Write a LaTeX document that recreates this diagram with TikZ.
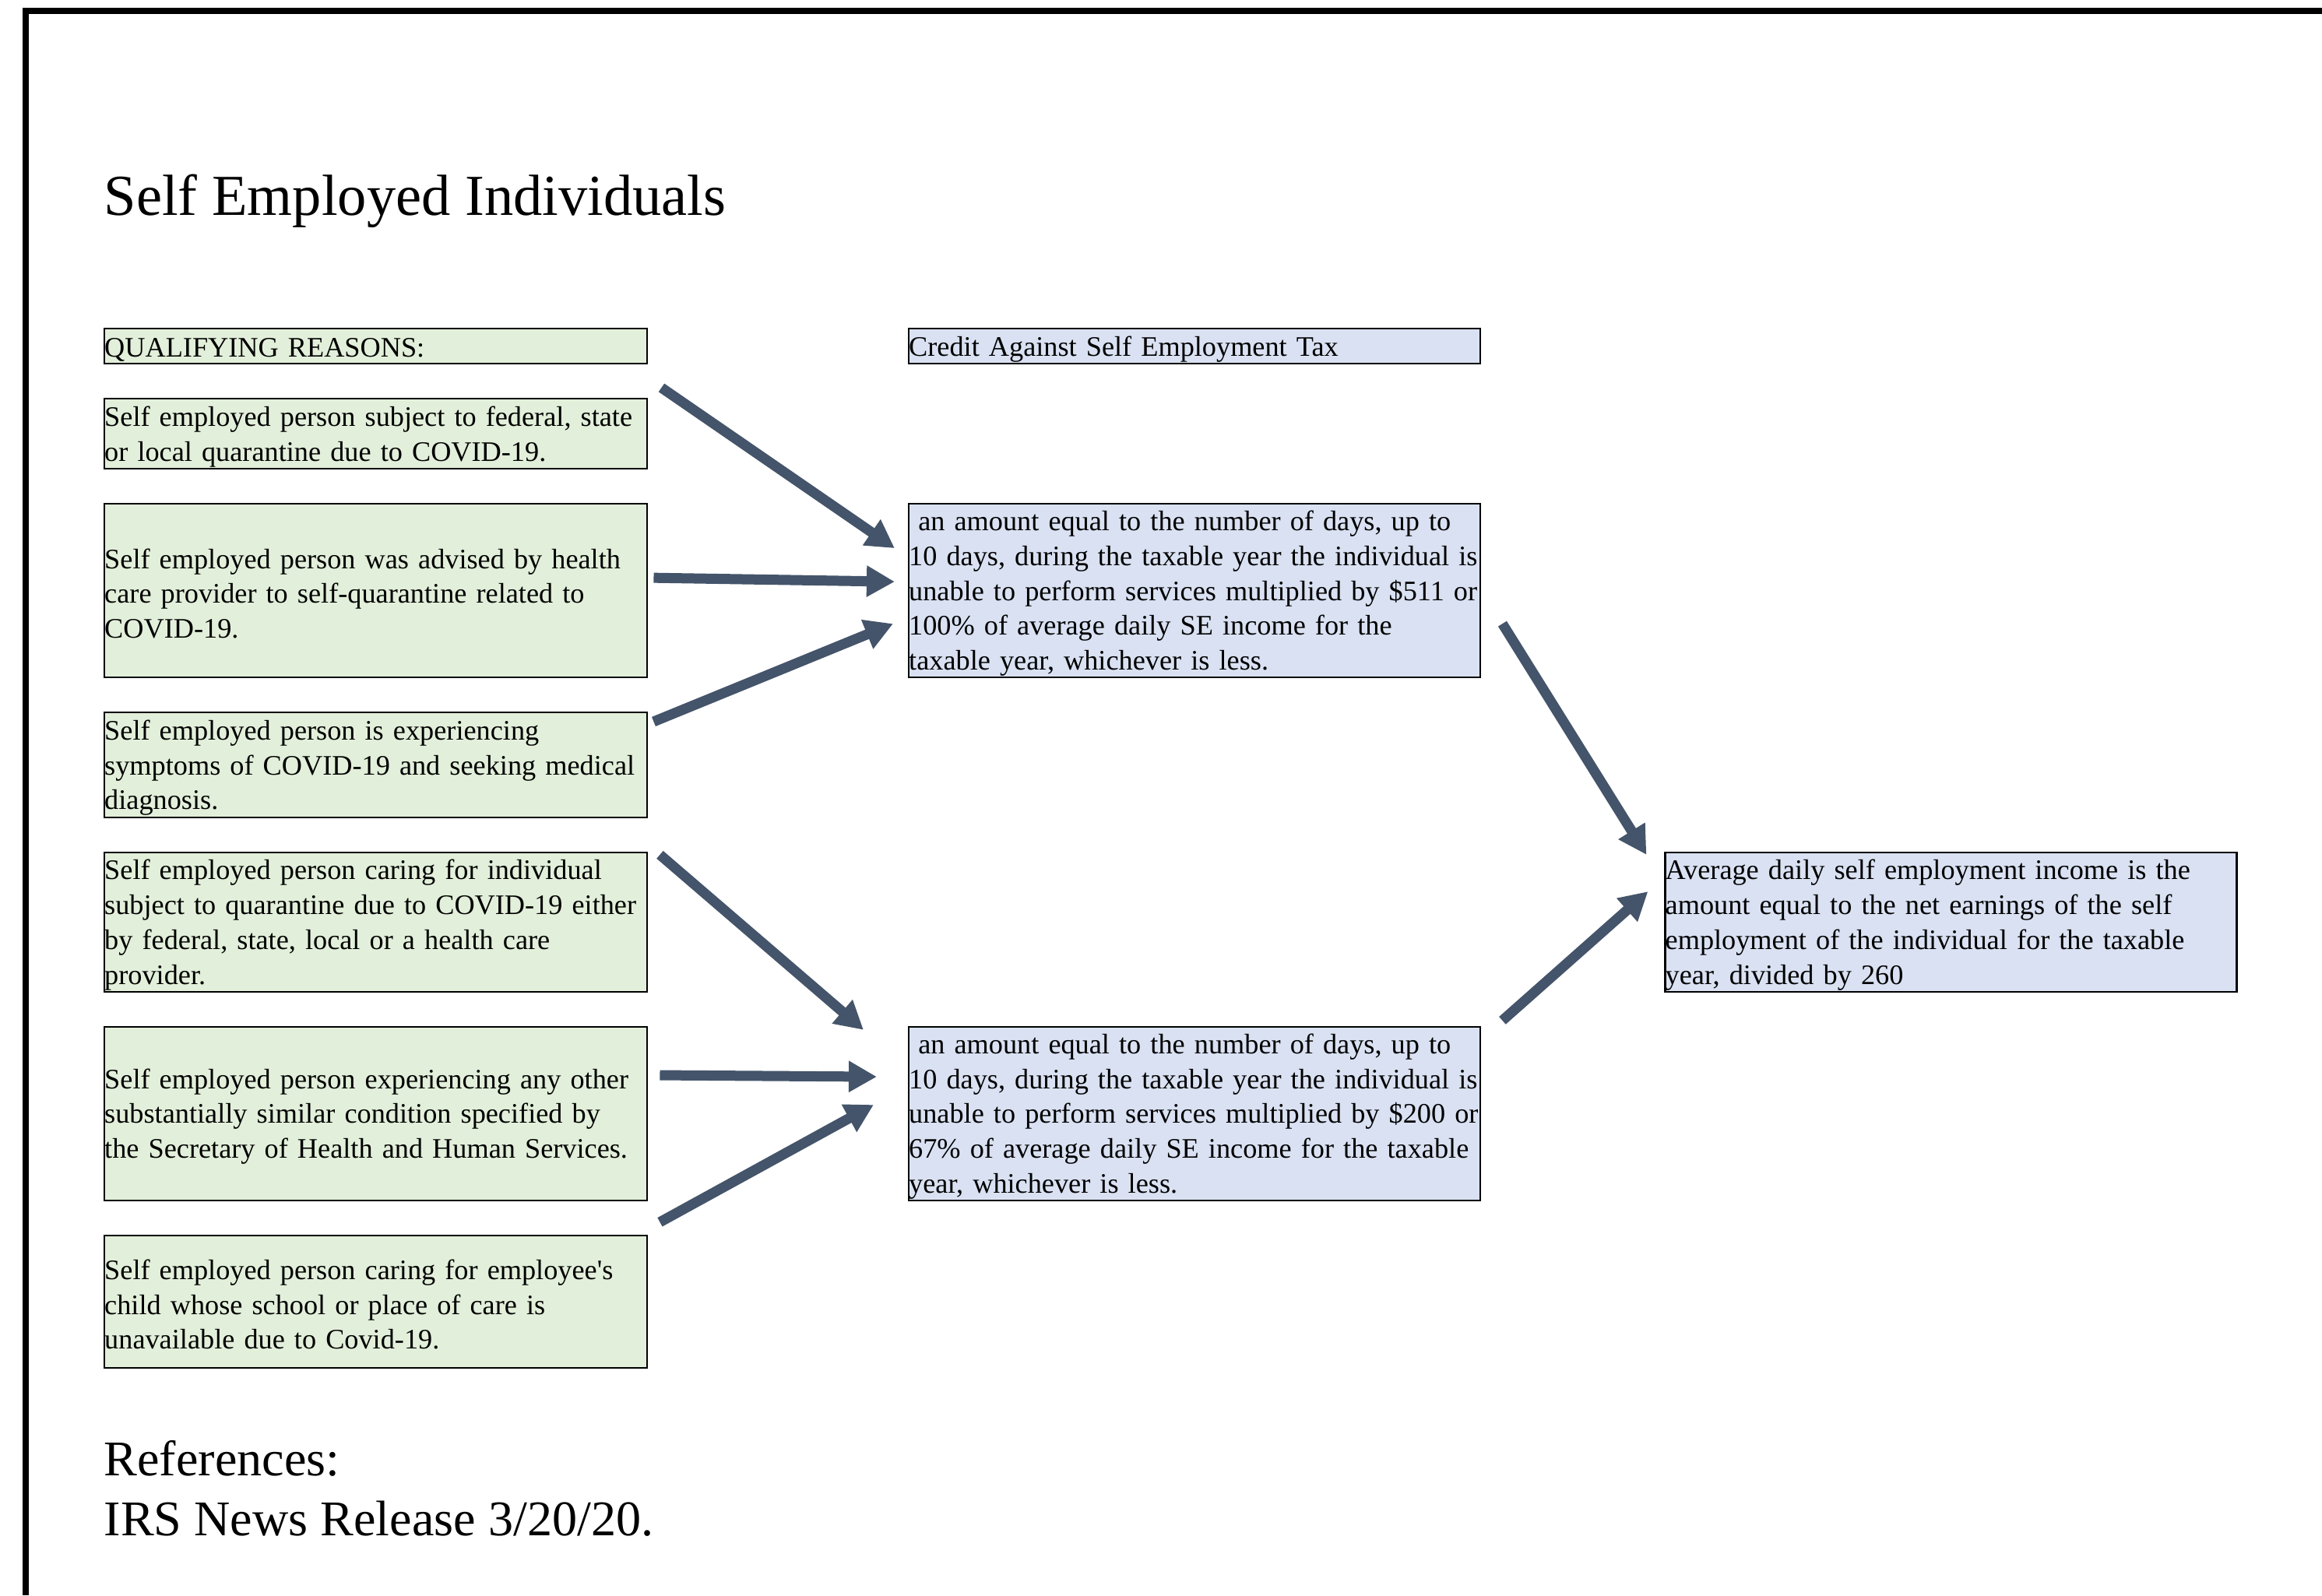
\documentclass[tikz,border=0pt]{standalone}
\usepackage{fontspec}
\setmainfont{Liberation Serif}[Ligatures=TeXOff]
\usepackage{xcolor}
\usetikzlibrary{shapes,arrows,arrows.meta,positioning,calc}

\definecolor{reasonfill}{RGB}{226,239,218}
\definecolor{creditfill}{RGB}{217,225,242}
\definecolor{arrowcol}{RGB}{68,84,106}

\begin{document}
\begin{tikzpicture}[
    node distance=0.425cm and 3.335cm,
    boxtext/.style={rectangle, draw, line width=0.7pt, align=left, inner sep=0pt, font=\fontsize{10.32}{12.72}\selectfont,
        execute at begin node={\rightskip=0pt plus 1fil minus 2cm\hyphenpenalty=10000\vrule height 0.9em depth 0pt width 0pt}},
    reason/.style={boxtext, fill=reasonfill, text width=6.97cm},
    credit/.style={boxtext, fill=creditfill, text width=7.34cm},
    arrow/.style={-{Triangle[length=0.36cm, width=0.38cm]}, line width=0.13cm, arrowcol},
]
    \useasboundingbox (0,0) rectangle (29.82,-20.49);
    \draw[line width=0.08cm] (0.33,-20.49) -- (0.33,-0.14) -- (29.82,-0.14);

    \node[anchor=base west, inner sep=0pt, font=\fontsize{21.2}{24}\selectfont] (title) at (1.33,-2.76) {Self Employed Individuals};

    % qualifying reasons
    \node[reason, anchor=north west, minimum height=0.45cm] (qual) at (1.33,-4.21) {QUALIFYING REASONS:};
    \node[reason, below=of qual, minimum height=0.90cm] (r1) {Self employed person subject to federal, state\\or local quarantine due to COVID-19.};
    \node[reason, below=of r1, minimum height=2.23cm] (r2) {Self employed person was advised by health\\care provider to self-quarantine related to\\COVID-19.};
    \node[reason, below=of r2, minimum height=1.35cm] (r3) {Self employed person is experiencing\\symptoms of COVID-19 and seeking medical\\diagnosis.};
    \node[reason, below=of r3, minimum height=1.79cm] (r4) {Self employed person caring for individual\\subject to quarantine due to COVID-19 either\\by federal, state, local or a health care\\provider.};
    \node[reason, below=of r4, minimum height=2.23cm] (r5) {Self employed person experiencing any other\\substantially similar condition specified by\\the Secretary of Health and Human Services.};
    \node[reason, below=of r5, minimum height=1.70cm] (r6) {Self employed person caring for employee's\\child whose school or place of care is\\unavailable due to Covid-19.};

    % credit
    \node[credit, right=of qual, minimum height=0.45cm] (hdr) {Credit Against Self Employment Tax};
    \node[credit, right=of r2, minimum height=2.23cm] (cr1) {\ an amount equal to the number of days, up to\\10 days, during the taxable year the individual is\\unable to perform services multiplied by \$511 or\\100\% of average daily SE income for the\\taxable year, whichever is less.};
    \node[credit, right=of r5, minimum height=2.23cm] (cr2) {\ an amount equal to the number of days, up to\\10 days, during the taxable year the individual is\\unable to perform services multiplied by \$200 or\\67\% of average daily SE income for the taxable\\year, whichever is less.};
    \node[credit, anchor=west, minimum height=1.79cm] (avg) at ($(cr1.east |- r4.west)+(2.35,0)$) {Average daily self employment income is the\\amount equal to the net earnings of the self\\employment of the individual for the taxable\\year, divided by 260};

    \node[anchor=base west, inner sep=0pt, font=\fontsize{18.25}{21.6}\selectfont] (refs) at (1.33,-18.955) {References:};
    \node[anchor=base west, inner sep=0pt, font=\fontsize{18.25}{21.6}\selectfont] (irs) at (1.33,-19.725) {IRS News Release 3/20/20.};

    \draw[arrow] ([shift={(0.17,0.13)}]r1.north east) -- ([shift={(-0.17,0.545)}]cr1.west);
    \draw[arrow] ([shift={(0.07,0.165)}]r2.east) -- ([shift={(-0.17,0.115)}]cr1.west);
    \draw[arrow] ([shift={(0.07,-0.13)}]r3.north east) -- ([shift={(-0.19,-0.425)}]cr1.west);
    \draw[arrow] ([shift={(0.15,-0.04)}]r4.north east) -- ([shift={(-0.57,-0.05)}]cr2.north west);
    \draw[arrow] ([shift={(0.15,0.495)}]r5.east) -- ([shift={(-0.40,0.475)}]cr2.west);
    \draw[arrow] ([shift={(0.15,0.16)}]r6.north east) -- ([shift={(-0.44,0.115)}]cr2.west);
    \draw[arrow] ([shift={(0.27,-0.425)}]cr1.east) -- ([shift={(-0.23,-0.04)}]avg.north west);
    \draw[arrow] ([shift={(0.27,0.07)}]cr2.north east) -- ([shift={(-0.21,0.395)}]avg.west);
\end{tikzpicture}
\end{document}
